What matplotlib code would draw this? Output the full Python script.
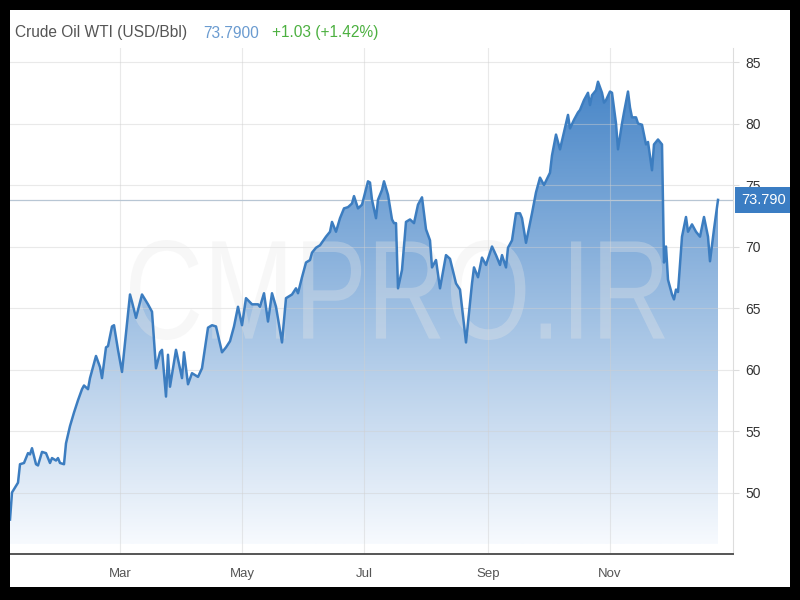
import numpy as np
import matplotlib.pyplot as plt
import matplotlib.dates as mdates
import matplotlib.transforms as mtransforms
from matplotlib.patches import Rectangle, PathPatch
from matplotlib.textpath import TextPath
from matplotlib.font_manager import FontProperties

plt.rcParams['font.family'] = ['Liberation Sans', 'DejaVu Sans']

# days since 2021-01-01 and the WTI close
day_of_year = [4, 5, 8, 9, 11, 13, 14, 15, 17, 18, 20, 22, 24, 25, 27, 28, 29, 31, 32, 34,
               36, 38, 40, 41, 43, 44, 47, 49, 50, 52, 53, 55, 56, 58, 60, 64, 65, 67, 70, 73,
               75, 77, 79, 80, 82, 83, 84, 87, 90, 91, 93, 95, 98, 100, 103, 105, 107, 110, 112, 114,
               116, 118, 120, 122, 125, 128, 129, 131, 133, 135, 137, 140, 142, 145, 147, 148, 150, 152, 154, 155,
               157, 159, 162, 164, 165, 167, 169, 171, 173, 175, 176, 178, 180, 183, 184, 185, 187, 188, 190, 191,
               193, 195, 196, 197, 198, 200, 202, 204, 206, 208, 210, 212, 214, 215, 217, 219, 222, 224, 227, 229,
               232, 235, 236, 238, 240, 242, 245, 247, 249, 250, 252, 253, 255, 257, 259, 260, 262, 265, 267, 269,
               271, 274, 275, 277, 279, 281, 283, 284, 286, 288, 289, 291, 293, 294, 295, 297, 298, 300, 301, 302,
               304, 305, 307, 308, 310, 311, 313, 314, 315, 317, 318, 320, 322, 323, 325, 326, 328, 330, 331, 332,
               333, 335, 336, 337, 338, 340, 342, 343, 345, 347, 349, 351, 353, 354, 356, 358]
price = [47.8, 50.0, 50.8, 52.3, 52.4, 53.2, 53.1, 53.6, 52.3, 52.2, 53.3, 53.2, 52.4, 52.8, 52.6, 52.8, 52.4, 52.3, 54.0, 55.4,
         56.5, 57.5, 58.4, 58.7, 58.4, 59.3, 61.1, 60.2, 59.3, 61.8, 61.9, 63.5, 63.6, 61.6, 59.8, 66.1, 65.5, 64.2, 66.1, 65.3,
         64.7, 60.1, 61.4, 61.6, 57.8, 61.2, 58.6, 61.6, 59.3, 61.4, 58.8, 59.7, 59.4, 60.1, 63.4, 63.6, 63.5, 61.4, 61.8, 62.3,
         63.5, 65.1, 63.6, 65.8, 65.3, 65.3, 65.1, 66.2, 63.9, 66.2, 65.1, 62.2, 65.8, 66.1, 66.6, 66.2, 67.5, 68.7, 68.9, 69.5,
         69.9, 70.1, 70.8, 71.2, 72.0, 71.2, 72.3, 73.1, 73.2, 73.5, 74.1, 73.1, 73.4, 75.3, 75.2, 73.8, 72.3, 73.8, 74.6, 75.3,
         74.2, 72.2, 71.9, 71.9, 66.6, 68.1, 72.0, 72.2, 71.9, 73.4, 74.0, 71.4, 70.5, 68.3, 68.9, 66.6, 69.3, 69.0, 67.0, 66.5,
         62.2, 67.0, 68.3, 67.5, 69.1, 68.5, 70.0, 69.3, 68.5, 69.3, 68.3, 69.9, 70.5, 72.7, 72.7, 72.3, 70.3, 72.7, 74.4, 75.6,
         75.0, 76.0, 77.4, 79.1, 77.9, 79.3, 80.7, 79.6, 80.3, 80.9, 81.1, 81.9, 82.5, 81.5, 82.3, 82.7, 83.4, 82.5, 81.7, 81.9,
         82.6, 82.5, 80.0, 77.9, 80.0, 80.9, 82.6, 81.3, 80.5, 80.5, 80.0, 79.9, 78.3, 78.5, 76.2, 78.3, 78.7, 78.3, 68.7, 70.0,
         67.3, 66.1, 65.7, 66.5, 66.3, 70.8, 72.4, 71.2, 71.8, 71.2, 70.8, 72.4, 70.8, 68.8, 71.4, 73.79]

last_price = 73.79
y_ticks = [50, 55, 60, 65, 70, 75, 80, 85]
month_ticks = ['2021-03-01', '2021-05-01', '2021-07-01', '2021-09-01', '2021-11-01']
month_labels = ['Mar', 'May', 'Jul', 'Sep', 'Nov']

start = np.datetime64('2021-01-01')
x = mdates.date2num(start + np.array(day_of_year).astype('timedelta64[D]'))
x_ticks = mdates.date2num(np.array(month_ticks, dtype='datetime64[D]'))
x0 = mdates.date2num(start) + 4
x1 = mdates.date2num(start) + 365.5
y0, y1 = 45, 86.14
fill_floor = 45.8

fig = plt.figure(figsize=(8, 6), dpi=100, facecolor='white')
ax = fig.add_axes([10 / 800, 46 / 600, 723 / 800, 506 / 600])
ax.set_facecolor('white')

# gradient fill under the line
top_c = np.array([60, 126, 196]) / 255
bot_c = np.array([247, 250, 254]) / 255
g = np.linspace(0, 1, 256).reshape(-1, 1, 1)
img = bot_c + (top_c - bot_c) * g
im = ax.imshow(img, extent=[x0, x1, fill_floor, 86], origin='lower', aspect='auto', zorder=1)
poly = ax.fill_between(x, price, fill_floor, facecolor='none', edgecolor='none')
im.set_clip_path(poly.get_paths()[0], transform=ax.transData)

ax.plot(x, price, color='#3c7dc0', lw=1.8, zorder=4, solid_joinstyle='round')
ax.axhline(last_price, color='#b8c6d4', lw=0.9, zorder=3.5)

# watermark
tp = TextPath((0, 0), 'CMPRO.IR', size=100, prop=FontProperties(family='Liberation Sans'))
bb = tp.get_extents()
wx0, wx1 = 130 / 800, 665 / 800
wy0, wy1 = 260 / 600, 360 / 600
wm_tr = (mtransforms.Affine2D().translate(-bb.x0, -bb.y0)
         .scale((wx1 - wx0) / bb.width, (wy1 - wy0) / bb.height)
         .translate(wx0, wy0) + fig.transFigure)
ax.add_patch(PathPatch(tp, transform=wm_tr, fc='#e8e8e8', ec='none', alpha=0.32, zorder=3))

ax.set_xlim(x0, x1)
ax.set_ylim(y0, y1)

ax.set_xticks(x_ticks)
ax.set_xticklabels(month_labels)
ax.set_yticks(y_ticks)
ax.yaxis.tick_right()
ax.grid(True, color='#d0d0d0', lw=0.8, alpha=0.45)
for gl in ax.get_xgridlines() + ax.get_ygridlines():
    gl.set_zorder(2)

ax.tick_params(axis='y', length=4, color='#dddddd', labelsize=10, labelcolor='#333333', pad=5)
ax.tick_params(axis='x', length=0, labelsize=9.5, labelcolor='#555555', pad=10)

for s in ['left', 'top']:
    ax.spines[s].set_visible(False)
ax.spines['right'].set_color('#dddddd')
ax.spines['right'].set_linewidth(0.8)
ax.spines['bottom'].set_color('#555555')
ax.spines['bottom'].set_linewidth(1.4)

# last value box
blend = mtransforms.blended_transform_factory(ax.transAxes, ax.transData)
ax.text(1.011, last_price, '73.790', transform=blend, ha='left', va='center', color='white',
        fontsize=10.5, clip_on=False, zorder=6,
        bbox=dict(boxstyle='square,pad=0.4', fc='#3b7dc3', ec='none'))

# header
fig.text(15 / 800, 1 - 33 / 600, 'Crude Oil WTI (USD/Bbl)', fontsize=11.2, color='#555555', va='center')
fig.text(203 / 800, 1 - 33 / 600, '73.7900', fontsize=11.2, color='#6a9bd0', va='center')
fig.text(272 / 800, 1 - 33 / 600, '+1.03 (+1.42%)', fontsize=11.2, color='#4cb040', va='center')

# black frame
for r in [(0, 0, 10, 600), (790, 0, 10, 600), (0, 0, 800, 10), (0, 587, 800, 13)]:
    fig.patches.append(Rectangle((r[0] / 800, 1 - (r[1] + r[3]) / 600), r[2] / 800, r[3] / 600,
                                 transform=fig.transFigure, fc='black', ec='none', zorder=20))

fig.savefig('out.png', dpi=100, facecolor='white')
